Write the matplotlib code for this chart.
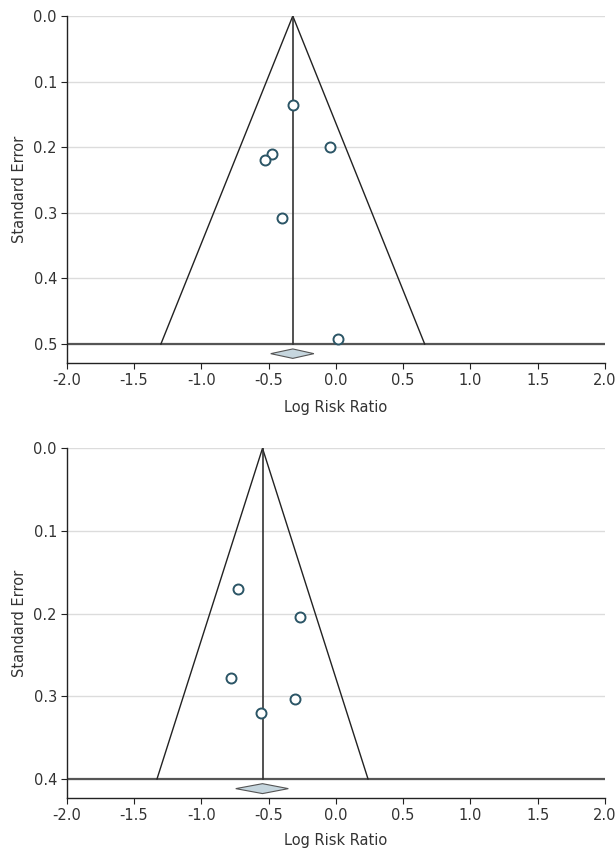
import matplotlib
matplotlib.use("Agg")
import matplotlib.pyplot as plt
from matplotlib.patches import Polygon

plt.rcParams['font.family'] = ['Liberation Sans Narrow', 'DejaVu Sans']
plt.rcParams['font.size'] = 10.5

# Panel A
a_est = [-0.319, -0.042, -0.474, -0.526, -0.403, 0.019]
a_se = [0.1355, 0.1996, 0.2108, 0.2195, 0.308, 0.4918]
a_summary = -0.320
a_ci = (-0.484, -0.163)
a_se_max = 0.5
a_yticks = [0.0, 0.1, 0.2, 0.3, 0.4, 0.5]

# Panel B
b_est = [-0.725, -0.266, -0.780, -0.305, -0.559]
b_se = [0.1702, 0.204, 0.278, 0.3036, 0.3202]
b_summary = -0.545
b_ci = (-0.744, -0.353)
b_se_max = 0.4
b_yticks = [0.0, 0.1, 0.2, 0.3, 0.4]

xticks = [-2.0, -1.5, -1.0, -0.5, 0.0, 0.5, 1.0, 1.5, 2.0]

W, H = 615, 850
fig = plt.figure(figsize=(W / 100, H / 100), dpi=100)

def px_rect(left, right, top, bottom):
    return [left / W, 1 - bottom / H, (right - left) / W, (bottom - top) / H]

dark = '#333333'
mcol = '#2b5566'

def panel(rect, est, se, summ, ci, semax, yticks, ybottom, dh, xpad):
    ax = fig.add_axes(rect)
    ax.set_xlim(-2.0, 2.0)
    ax.set_ylim(ybottom, 0.0)
    for yt in yticks:
        ax.axhline(yt, color='#dcdcdc', lw=1.0, zorder=0)
    ax.axhline(semax, color='#555555', lw=1.6, zorder=2)
    half = 1.96 * semax
    ax.plot([summ - half, summ, summ + half], [semax, 0.0, semax], color='#222222', lw=1.0, zorder=3)
    ax.plot([summ, summ], [0.0, semax], color='#333333', lw=1.2, zorder=3)
    ymid = (semax + ybottom) / 2
    diamond = Polygon([[ci[0], ymid], [summ, ymid - dh], [ci[1], ymid], [summ, ymid + dh]],
                      closed=True, facecolor='#c6d6de', edgecolor='#555555', lw=0.8, zorder=4)
    ax.add_patch(diamond)
    ax.plot(est, se, linestyle='none', marker='o', markersize=7.2, markerfacecolor='white',
            markeredgecolor=mcol, markeredgewidth=1.4, zorder=5, clip_on=False)
    ax.set_xticks(xticks)
    ax.set_xticklabels([f'{v:.1f}' for v in xticks])
    ax.set_yticks(yticks)
    ax.set_yticklabels([f'{v:.1f}' for v in yticks])
    for s in ['top', 'right']:
        ax.spines[s].set_visible(False)
    for s in ['left', 'bottom']:
        ax.spines[s].set_color('#222222')
        ax.spines[s].set_linewidth(1.0)
    ax.tick_params(axis='both', colors='#222222', labelcolor=dark, length=4, width=0.8, pad=3,
                   labelsize=10.5)
    ax.set_xlabel('Log Risk Ratio', color=dark, fontsize=10.5, labelpad=xpad)
    ax.set_ylabel('Standard Error', color=dark, fontsize=10.5, labelpad=5)
    return ax

# top panel: y=0 at 16px, 0.5 at 344px, bottom spine 363.3px
panel(px_rect(66.7, 605, 16, 363.3), a_est, a_se, a_summary, a_ci, a_se_max, a_yticks,
      0.5294, 0.0072, 8.5)
# bottom panel: y=0 at 448.3px, 0.4 at 779px, bottom spine 798.3px
panel(px_rect(66.7, 605, 448.3, 798.3), b_est, b_se, b_summary, b_ci, b_se_max, b_yticks,
      0.4234, 0.006, 7.5)

fig.savefig('out.png', dpi=100)
